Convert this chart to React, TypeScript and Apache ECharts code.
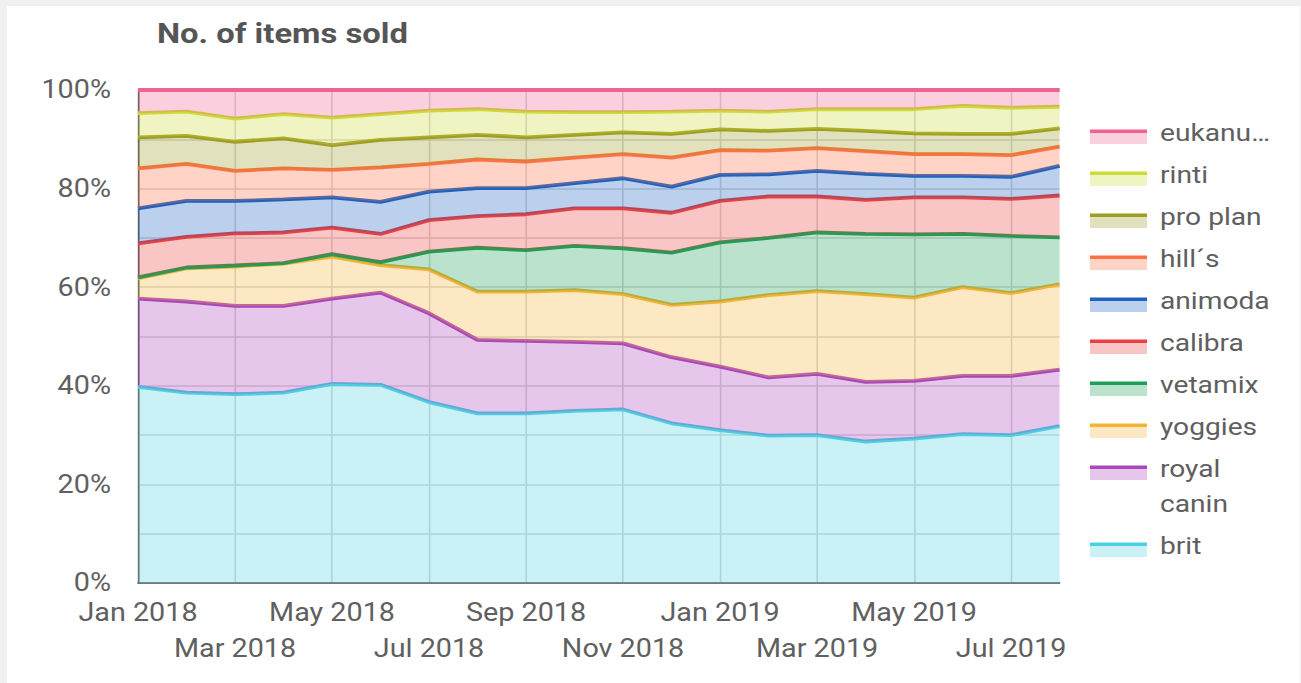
import React, { useEffect, useRef } from "react";
import * as echarts from "echarts";

const months = [
  "Jan 2018", "Feb 2018", "Mar 2018", "Apr 2018", "May 2018", "Jun 2018", "Jul 2018", "Aug 2018",
  "Sep 2018", "Oct 2018", "Nov 2018", "Dec 2018", "Jan 2019", "Feb 2019", "Mar 2019", "Apr 2019",
  "May 2019", "Jun 2019", "Jul 2019", "Aug 2019",
];

// shares in % of items sold per month (stacked bottom -> top)
const brit = [39.8, 38.6, 38.3, 38.6, 40.4, 40.2, 36.7, 34.4, 34.4, 34.9, 35.2, 32.4, 31.0, 29.9, 30.0, 28.7, 29.3, 30.2, 30.0, 31.8];
const royalCanin = [17.9, 18.5, 17.9, 17.6, 17.3, 18.7, 18.0, 14.9, 14.7, 14.0, 13.4, 13.4, 12.9, 11.8, 12.4, 12.1, 11.7, 11.8, 12.0, 11.5];
const yoggies = [4.1, 6.7, 8.0, 8.6, 8.5, 5.6, 8.9, 9.8, 10.0, 10.5, 10.0, 10.6, 13.2, 16.7, 16.8, 17.8, 16.9, 18.0, 16.8, 17.3];
const vetamix = [0.2, 0.2, 0.2, 0.1, 0.5, 0.6, 3.6, 8.9, 8.4, 9.0, 9.3, 10.6, 12.0, 11.6, 11.9, 12.2, 12.8, 10.8, 11.6, 9.5];
const calibra = [6.9, 6.2, 6.5, 6.2, 5.4, 5.7, 6.4, 6.4, 7.3, 7.6, 8.1, 8.1, 8.4, 8.4, 7.3, 6.9, 7.5, 7.4, 7.5, 8.5];
const animoda = [7.1, 7.3, 6.6, 6.7, 6.1, 6.5, 5.8, 5.7, 5.3, 5.1, 6.1, 5.3, 5.3, 4.5, 5.2, 5.3, 4.4, 4.4, 4.5, 6.0];
const hills = [8.1, 7.5, 6.1, 6.3, 5.6, 7.0, 5.6, 5.8, 5.4, 5.2, 4.9, 5.9, 5.0, 4.8, 4.6, 4.6, 4.4, 4.4, 4.4, 3.9];
const proPlan = [6.3, 5.7, 5.9, 6.1, 5.0, 5.6, 5.4, 5.0, 4.9, 4.6, 4.4, 4.8, 4.2, 4.0, 3.9, 4.1, 4.2, 4.1, 4.3, 3.7];
const rinti = [4.9, 4.9, 4.7, 4.9, 5.6, 5.2, 5.4, 5.2, 5.2, 4.6, 4.1, 4.5, 3.8, 3.9, 4.0, 4.4, 4.9, 5.7, 5.3, 4.4];
const eukanuba = [4.7, 4.4, 5.8, 4.9, 5.6, 4.9, 4.2, 3.9, 4.4, 4.5, 4.5, 4.4, 4.2, 4.4, 3.9, 3.9, 3.9, 3.2, 3.6, 3.4];

const seriesNames = ["brit", "royal canin", "yoggies", "vetamix", "calibra", "animoda", "hill´s", "pro plan", "rinti", "eukanuba"];
const legendLabels = ["brit", "royal\ncanin", "yoggies", "vetamix", "calibra", "animoda", "hill´s", "pro plan", "rinti", "eukanu…"];
const seriesData = [brit, royalCanin, yoggies, vetamix, calibra, animoda, hills, proPlan, rinti, eukanuba];
const colors = ["#4dd0e1", "#ab47bc", "#f5b335", "#1e9e57", "#ea4040", "#1e63c0", "#ff7043", "#9e9d24", "#cddc39", "#f06292"];
const yTicks = [0, 20, 40, 60, 80, 100];

const FONT = "Roboto";
// the reference is horizontally stretched; the chart is drawn narrower and scaled in x
const SX = 1.15;
const CARD_X = 7;
const CARD_Y = 6;
const CARD_W = 1293;
const CARD_H = 677;
const px = (pageX: number) => (pageX - CARD_X) / SX;

export default function App() {
  const ref = useRef<HTMLDivElement>(null);
  useEffect(() => {
    if (!ref.current) return;
    const chart = echarts.init(ref.current, null, { renderer: "svg" });
    const chartW = CARD_W / SX;

    const series = seriesData.map((d, i) => ({
      name: seriesNames[i],
      type: "line",
      stack: "total",
      data: d,
      symbol: "none",
      lineStyle: { color: colors[i], width: 3.8 },
      itemStyle: { color: colors[i] },
      areaStyle: { color: colors[i], opacity: 0.3 },
      z: 2 + i,
    }));

    // legend (top -> bottom in reverse stacking order)
    const legendItems: any[] = [];
    let y = 127;
    const iconX = px(1090);
    const iconW = 57 / SX;
    const textX = px(1160);
    for (let k = seriesNames.length - 1; k >= 0; k--) {
      const i = k;
      legendItems.push({
        type: "rect",
        shape: { x: iconX, y: y, width: iconW, height: 11 },
        style: { fill: colors[i], opacity: 0.3 },
      });
      legendItems.push({
        type: "rect",
        shape: { x: iconX, y: y - 3.5, width: iconW, height: 3.5 },
        style: { fill: colors[i] },
      });
      legendItems.push({
        type: "text",
        x: textX,
        y: y - 0.5 - 17.5,
        style: {
          text: legendLabels[i],
          fill: "#5f5f5f",
          font: `24.5px ${FONT}`,
          lineHeight: 35,
          verticalAlign: "top",
        },
      });
      y += legendLabels[i].includes("\n") ? 77 : 42;
    }

    chart.setOption({
      animation: false,
      backgroundColor: "#ffffff",
      title: {
        text: "No. of items sold",
        left: px(157) - 5,
        top: 8,
        textStyle: { fontFamily: FONT, fontSize: 28.5, fontWeight: "bold", color: "#555555" },
      },
      grid: { left: px(138), right: chartW - px(1060), top: 84, bottom: 100 },
      xAxis: {
        type: "category",
        data: months,
        boundaryGap: false,
        axisLine: { show: true, lineStyle: { color: "#555555", width: 1.5 } },
        axisTick: { show: false },
        splitLine: {
          show: true,
          interval: (idx: number) => idx % 2 === 0,
          lineStyle: { color: "#d6d6d6", width: 1.4 },
        },
        axisLabel: {
          interval: 0,
          margin: 12,
          fontFamily: FONT,
          fontSize: 25,
          color: "#606060",
          lineHeight: 36,
          formatter: (v: string, idx: number) => {
            if (idx % 2 === 1) return "";
            return idx % 4 === 0 ? v : "\n" + v;
          },
        },
      },
      yAxis: {
        type: "value",
        min: 0,
        max: 100,
        interval: 10,
        axisLine: { show: true, lineStyle: { color: "#555555", width: 1.4 } },
        axisTick: { show: false },
        splitLine: { show: true, lineStyle: { color: "#d6d6d6", width: 1.5 } },
        axisLabel: {
          margin: 27 / SX,
          fontFamily: FONT,
          fontSize: 25,
          color: "#606060",
          formatter: (v: number) => (yTicks.includes(v) ? v + "%" : ""),
        },
      },
      graphic: legendItems,
      series,
    });
    return () => chart.dispose();
  }, []);

  return (
    <div style={{ position: "fixed", left: 0, top: 0, width: 1301, height: 683, background: "#f1f1f1", overflow: "hidden" }}>
      <div
        style={{
          position: "absolute",
          left: CARD_X,
          top: CARD_Y,
          width: CARD_W,
          height: CARD_H,
          background: "#ffffff",
          overflow: "hidden",
        }}
      >
        <div
          ref={ref}
          style={{
            position: "absolute",
            left: 0,
            top: 0,
            width: CARD_W / SX,
            height: CARD_H,
            transform: `scaleX(${SX})`,
            transformOrigin: "0 0",
          }}
        />
      </div>
    </div>
  );
}
